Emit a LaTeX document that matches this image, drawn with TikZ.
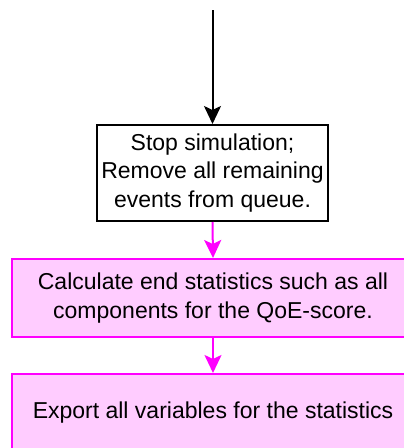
\documentclass[tikz,border=0pt]{standalone}
\usepackage{fontspec}
\setmainfont{Liberation Sans}
\usetikzlibrary{arrows.meta}
\definecolor{pinkfill}{HTML}{FFCCFF}
\definecolor{magentaline}{HTML}{FF00FF}
\tikzset{
  boxtxt/.style={font=\fontsize{23}{28.5}\selectfont, align=center, inner sep=0pt},
  plainbox/.style={boxtxt, draw=black, line width=2pt, fill=white},
  pinkbox/.style={boxtxt, draw=magentaline, line width=2pt, fill=pinkfill},
  blackarrow/.style={draw=black, line width=2pt, -{Stealth[length=18pt,width=17pt,inset=4pt]}},
  pinkarrow/.style={draw=magentaline, line width=2pt, -{Stealth[length=18pt,width=17pt,inset=4pt]}}
}
\begin{document}
\begin{tikzpicture}[x=1pt,y=-1pt]
\useasboundingbox (0,0) rectangle (404,448);
\clip (0,0) rectangle (404,448);
\fill[white] (0,0) rectangle (404,448);
\coordinate (top) at (212.5,10);
\node[plainbox, minimum width=231pt, minimum height=96pt] (stop) at (212.5,173)
  {Stop simulation;\\Remove all remaining\\events from queue.};
\node[pinkbox, minimum width=403pt, minimum height=78pt] (calc) at (213,298)
  {Calculate end statistics such as all\\components for the QoE-score.};
\node[pinkbox, minimum width=403pt, minimum height=78pt] (export) at (213,413)
  {Export all variables for the statistics};
\draw[blackarrow] (top) -- (stop.north);
\draw[pinkarrow] (stop.south) -- (calc.north);
\draw[pinkarrow] (calc.south) -- (export.north);
\end{tikzpicture}
\end{document}
